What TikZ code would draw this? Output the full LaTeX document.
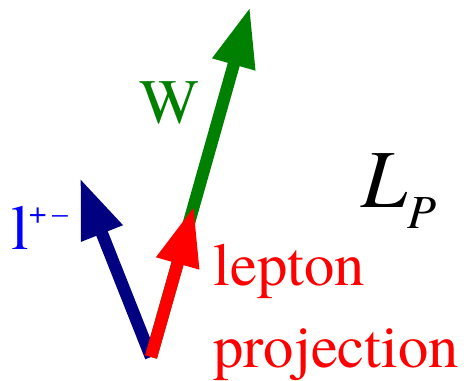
\documentclass[tikz,border=0pt]{standalone}
\usepackage{fontspec}
\setmainfont{texgyretermes}[Extension=.otf,UprightFont=*-regular,ItalicFont=*-italic]
\usepackage{tikz}
\usetikzlibrary{arrows.meta}
\definecolor{lepblue}{RGB}{0,0,128}
\definecolor{wgreen}{RGB}{0,128,0}
\definecolor{projred}{RGB}{255,0,0}
\tikzset{
  vec/.style={line width=7pt,-{Triangle[length=34pt,width=23.5pt]}},
  lbl/.style={inner sep=0pt,anchor=base west},
  big/.style={font=\fontsize{36}{40}\selectfont},
  mid/.style={font=\fontsize{34.5}{40}\selectfont}
}
\begin{document}
\begin{tikzpicture}[x=0.02cm,y=-0.02cm]
  \useasboundingbox (0,0) rectangle (464,380);
  \coordinate (o) at (151,357);
  \coordinate (wtip) at (250,7);
  \coordinate (ltip) at (80,178);
  \coordinate (ptip) at (194,206);
  % vectors
  \draw[vec,wgreen] (o) -- (wtip);
  \draw[vec,lepblue] (o) -- (ltip);
  \draw[vec,projred] (o) -- (ptip);
  % labels
  \node[lbl,big,text=wgreen] (w) at (139,123) {W};
  \node[lbl,big,text=blue] (l) at (11,249) {l\raisebox{14.7pt}{\fontsize{18}{20}\selectfont +\,–}};
  \node[lbl,mid,text=projred] (lep) at (213,285) {lepton};
  \node[lbl,mid,text=projred] (proj) at (213,367) {projection};
  \node[lbl,font=\fontsize{47}{50}\selectfont\itshape] (lp) at (361,207) {L\raisebox{-12.5pt}{\fontsize{27}{30}\selectfont P}};
\end{tikzpicture}
\end{document}
